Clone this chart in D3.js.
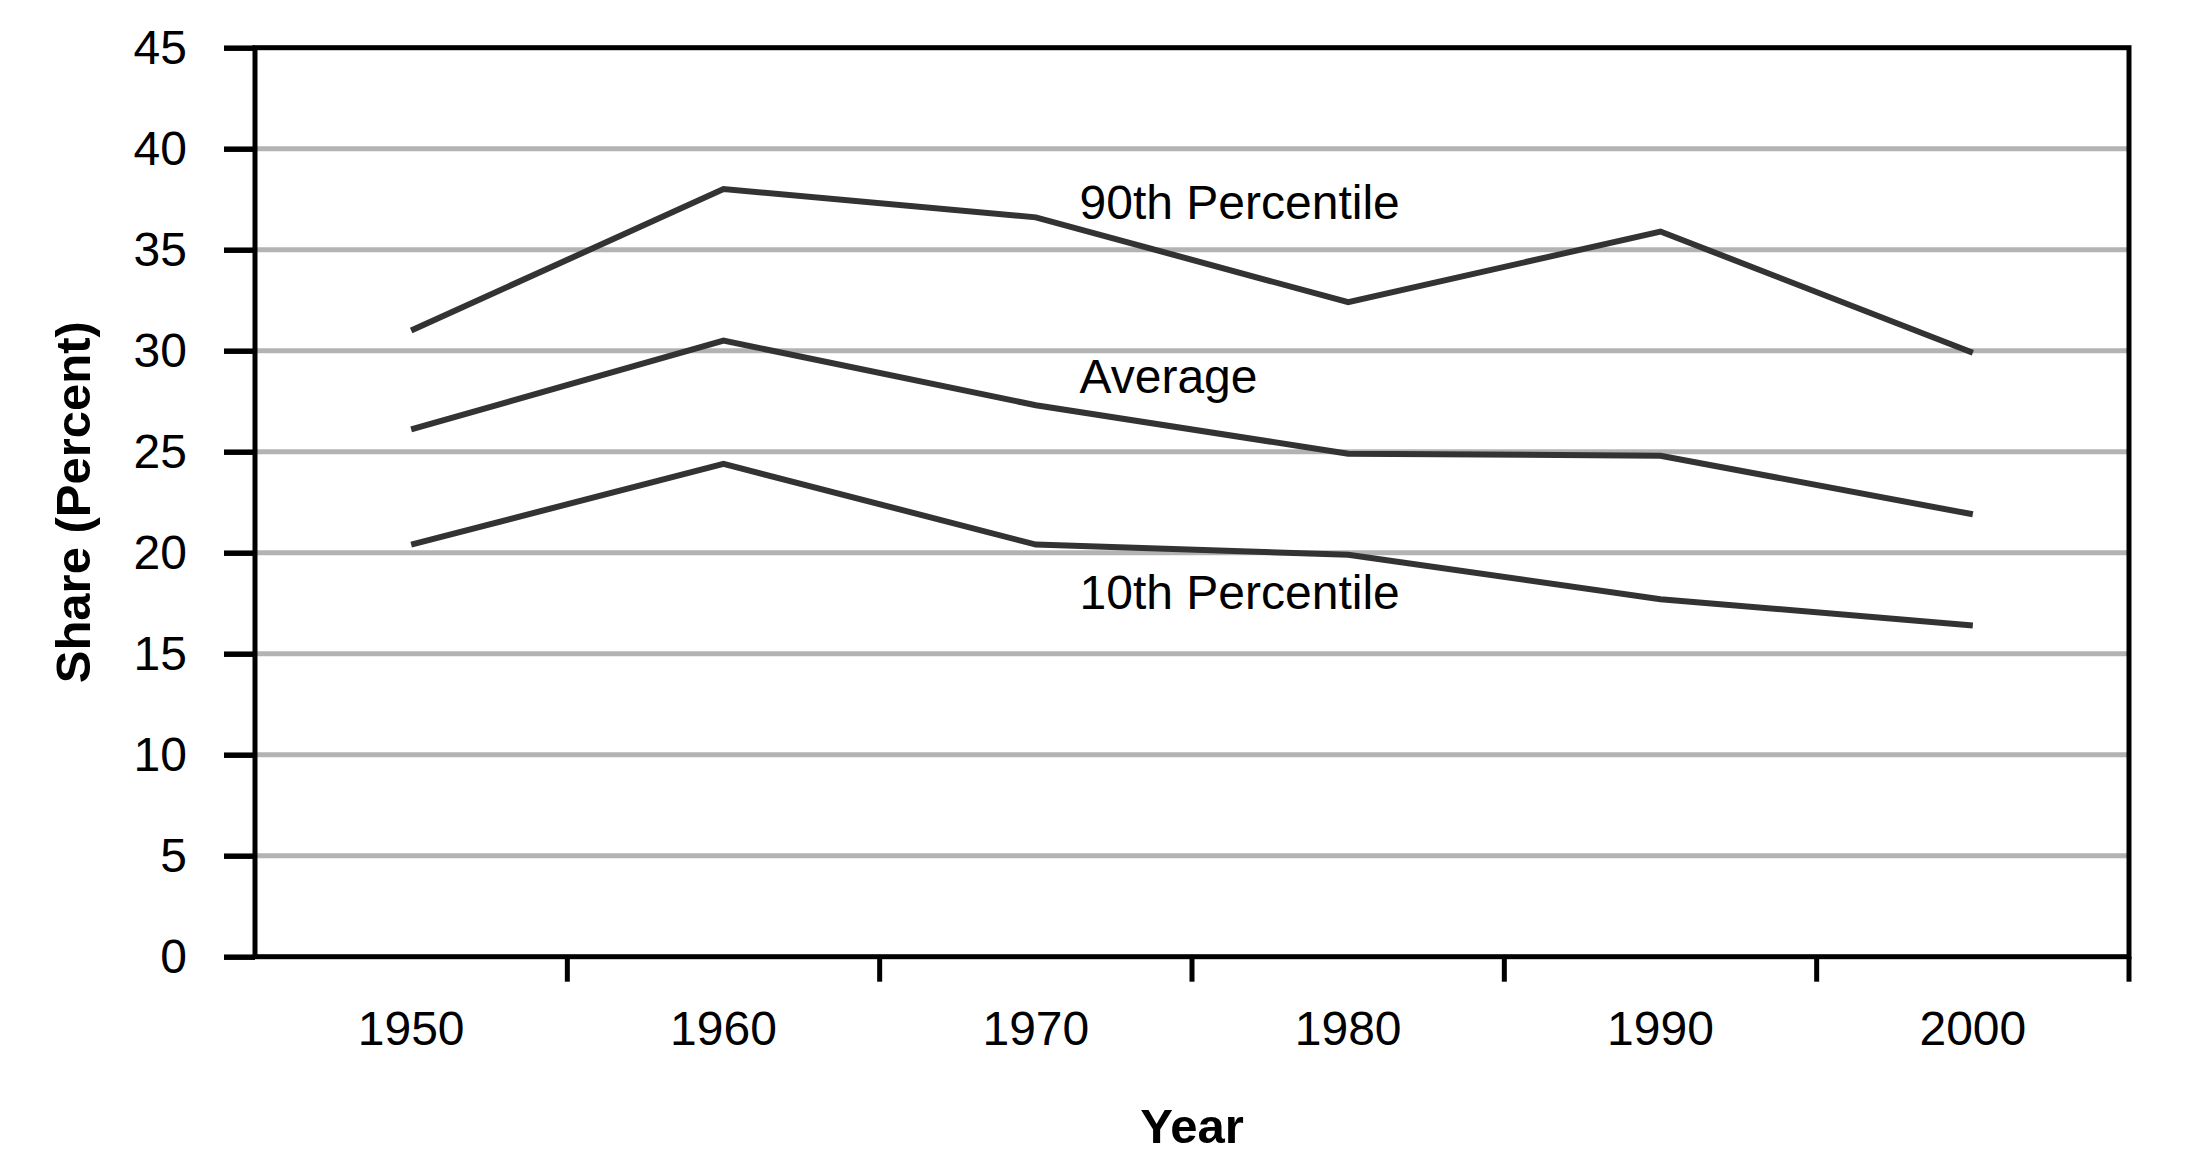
<!DOCTYPE html>
<html>
<head>
<meta charset="utf-8">
<script src="https://cdn.jsdelivr.net/npm/d3@7"></script>
<style>
  body { margin: 0; background: #fff; }
  text { font-family: "Liberation Sans", Arial, Helvetica, sans-serif; fill: #000; }
</style>
</head>
<body>
<script>
// chart data
var years = ["1950", "1960", "1970", "1980", "1990", "2000"];
var p90 = [31.0, 38.0, 36.6, 32.4, 35.9, 29.9];
var avg = [26.1, 30.5, 27.3, 24.9, 24.8, 21.9];
var p10 = [20.4, 24.4, 20.4, 19.9, 17.7, 16.4];
var yTicks = [0, 5, 10, 15, 20, 25, 30, 35, 40, 45];
var seriesNames = ["90th Percentile", "Average", "10th Percentile"];
// where each series label sits, in data units (year it sits by, value)
var labelYears = ["1970", "1970", "1970"];
var labelValues = [36.5, 27.9, 17.2];

// layout
var p = {
    width: 2206,
    height: 1174,
    left: 255,
    right: 2129,
    top: 47.7,
    bottom: 956.7
};

var svg = d3.select("body").append("svg")
    .attr("width", p.width)
    .attr("height", p.height);

var x = d3.scaleBand().domain(years).range([p.left, p.right]);
var y = d3.scaleLinear().domain([0, 45]).range([p.bottom, p.top]);

// gray gridlines
svg.append("g")
    .selectAll("line")
    .data(yTicks.filter(function(d) { return d > 0 && d < 45; }))
    .join("line")
    .attr("x1", p.left)
    .attr("x2", p.right)
    .attr("y1", function(d) { return y(d); })
    .attr("y2", function(d) { return y(d); })
    .style("stroke", "#b3b3b3")
    .style("stroke-width", 5);

// series lines
var line = d3.line()
    .x(function(d, i) { return x(years[i]) + x.bandwidth() / 2; })
    .y(function(d) { return y(d); });

svg.append("g")
    .selectAll("path")
    .data([p90, avg, p10])
    .join("path")
    .attr("d", line)
    .style("fill", "none")
    .style("stroke", "#333")
    .style("stroke-width", 6)
    .style("stroke-linejoin", "miter");

// series labels
svg.append("g")
    .selectAll("text")
    .data(seriesNames)
    .join("text")
    .attr("x", function(d, i) { return x(labelYears[i]) + x.bandwidth() * 0.64; })
    .attr("y", function(d, i) { return y(labelValues[i]); })
    .style("font-size", "48px")
    .text(function(d) { return d; });

// frame
svg.append("rect")
    .attr("x", p.left)
    .attr("y", p.top)
    .attr("width", p.right - p.left)
    .attr("height", p.bottom - p.top)
    .style("fill", "none")
    .style("stroke", "#000")
    .style("stroke-width", 5);

// y axis
var yAxis = svg.append("g")
    .attr("transform", "translate(" + p.left + ",0)")
    .call(d3.axisLeft(y).tickValues(yTicks).tickSize(31).tickPadding(37));
yAxis.select(".domain").remove();
yAxis.selectAll(".tick line").style("stroke", "#000").style("stroke-width", 5.5);
yAxis.selectAll(".tick text")
    .style("font-size", "48px")
    .style("font-family", "'Liberation Sans', Arial, sans-serif")
    .attr("fill", "#000");

// x axis labels
var xAxis = svg.append("g")
    .attr("transform", "translate(0," + p.bottom + ")")
    .call(d3.axisBottom(x).tickSize(0).tickPadding(54));
xAxis.select(".domain").remove();
xAxis.selectAll(".tick text")
    .style("font-size", "48px")
    .style("font-family", "'Liberation Sans', Arial, sans-serif")
    .attr("fill", "#000");

// x ticks on the band edges
svg.append("g")
    .selectAll("line")
    .data(years)
    .join("line")
    .attr("x1", function(d) { return x(d) + x.bandwidth(); })
    .attr("x2", function(d) { return x(d) + x.bandwidth(); })
    .attr("y1", p.bottom)
    .attr("y2", p.bottom + 25)
    .style("stroke", "#000")
    .style("stroke-width", 5);

// axis titles
svg.append("text")
    .attr("x", (p.left + p.right) / 2)
    .attr("y", 1143)
    .attr("text-anchor", "middle")
    .style("font-size", "49px")
    .style("font-weight", "bold")
    .text("Year");

svg.append("text")
    .attr("transform", "translate(90," + ((p.top + p.bottom) / 2) + ") rotate(-90)")
    .attr("text-anchor", "middle")
    .style("font-size", "49px")
    .style("font-weight", "bold")
    .text("Share (Percent)");
</script>
</body>
</html>
